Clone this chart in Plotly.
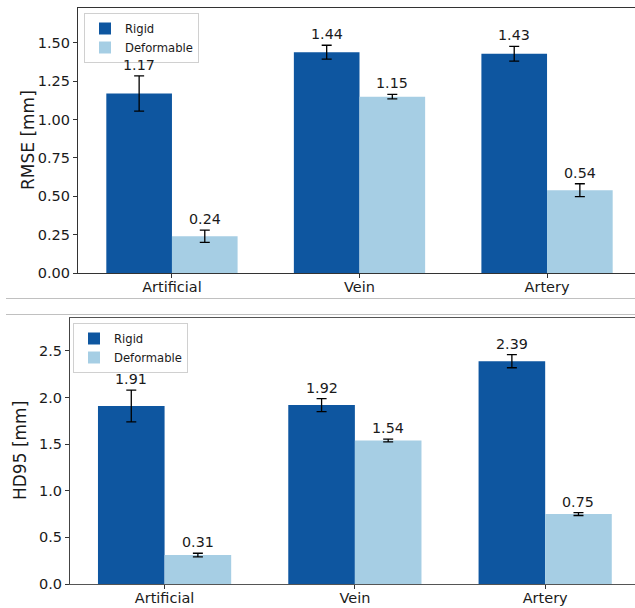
import plotly.graph_objects as go

categories = ["Artificial", "Vein", "Artery"]
series_names = ["Rigid", "Deformable"]

rmse_rigid = [1.17, 1.44, 1.43]
rmse_rigid_err = [0.115, 0.045, 0.048]
rmse_deform = [0.24, 1.15, 0.54]
rmse_deform_err = [0.04, 0.015, 0.042]

hd95_rigid = [1.91, 1.92, 2.39]
hd95_rigid_err = [0.17, 0.07, 0.07]
hd95_deform = [0.31, 1.54, 0.75]
hd95_deform_err = [0.02, 0.015, 0.015]

W, H = 635, 608
C_RIGID = "#0e56a0"
C_DEF = "#a6cee4"
FONT = "DejaVu Sans"
BAR_W = 0.35

def px_x(p):
    return p / W

def px_y(p):
    return 1 - p / H

fig = go.Figure()

xs = list(range(len(categories)))

panels = [
    dict(xa="x", ya="y", legend="legend", vals=(rmse_rigid, rmse_deform),
         errs=(rmse_rigid_err, rmse_deform_err), fmt="{:.2f}"),
    dict(xa="x2", ya="y2", legend="legend2", vals=(hd95_rigid, hd95_deform),
         errs=(hd95_rigid_err, hd95_deform_err), fmt="{:.2f}"),
]

for p in panels:
    for k, (name, color) in enumerate(zip(series_names, [C_RIGID, C_DEF])):
        offs = -BAR_W / 2 if k == 0 else BAR_W / 2
        xpos = [x + offs for x in xs]
        fig.add_trace(go.Bar(
            x=xpos, y=p["vals"][k], width=BAR_W, name=name,
            marker=dict(color=color, line=dict(color=color, width=0)),
            error_y=dict(type="data", array=p["errs"][k], color="black",
                         thickness=1.3, width=5),
            xaxis=p["xa"], yaxis=p["ya"], legend=p["legend"],
        ))
        for xv, v, e in zip(xpos, p["vals"][k], p["errs"][k]):
            fig.add_annotation(
                x=xv, y=v + e, xref=p["xa"], yref=p["ya"],
                text=p["fmt"].format(v), showarrow=False,
                yanchor="bottom", yshift=1,
                font=dict(family=FONT, size=14.3, color="#1a1a1a"),
            )

axis_common = dict(
    showgrid=False, zeroline=False, ticks="outside", ticklen=4,
    tickwidth=1, tickcolor="#333", showline=True, linewidth=1.2,
    automargin=False,
    tickfont=dict(family=FONT, size=14.5, color="#1a1a1a"),
)

fig.update_layout(
    template="none",
    width=W, height=H, margin=dict(l=0, r=0, t=0, b=0, pad=0),
    plot_bgcolor="white", paper_bgcolor="white", barmode="overlay",
    xaxis=dict(domain=[px_x(78), 1], range=[-0.501, 2.469], anchor="y",
               tickvals=xs, ticktext=categories, mirror=True, linecolor="#333",
               ticklabelstandoff=-4, **axis_common),
    yaxis=dict(domain=[px_y(273), px_y(8)], range=[0, 1.728], anchor="x",
               tickvals=[0, 0.25, 0.5, 0.75, 1.0, 1.25, 1.5], tickformat=".2f",
               linecolor="#333", **axis_common),
    xaxis2=dict(domain=[px_x(70), 1], range=[-0.497, 2.472], anchor="y2",
                tickvals=xs, ticktext=categories, mirror=True, linecolor="#555",
                ticklabelstandoff=-4, **axis_common),
    yaxis2=dict(domain=[px_y(584), px_y(318)], range=[0, 2.854], anchor="x2",
                tickvals=[0, 0.5, 1.0, 1.5, 2.0, 2.5], tickformat=".1f",
                linecolor="#444", **axis_common),
    legend=dict(x=px_x(84), y=px_y(13), xanchor="left", yanchor="top",
                bordercolor="#d0d0d0", borderwidth=1, bgcolor="rgba(255,255,255,0.85)",
                font=dict(family=FONT, size=11.6, color="#1a1a1a"),
                tracegroupgap=0, itemwidth=30),
    legend2=dict(x=px_x(73), y=px_y(323), xanchor="left", yanchor="top",
                 bordercolor="#d0d0d0", borderwidth=1, bgcolor="rgba(255,255,255,0.85)",
                 font=dict(family=FONT, size=11.6, color="#1a1a1a"),
                 tracegroupgap=0, itemwidth=30),
    shapes=[
        dict(type="line", xref="paper", yref="paper", x0=px_x(6), x1=1,
             y0=px_y(298.5), y1=px_y(298.5), line=dict(color="#c0c0c0", width=1)),
        dict(type="line", xref="paper", yref="paper", x0=px_x(6), x1=1,
             y0=px_y(314.5), y1=px_y(314.5), line=dict(color="#c0c0c0", width=1)),
    ],
)

fig.add_annotation(x=px_x(28), y=px_y(140), xref="paper", yref="paper",
                   xanchor="center", yanchor="middle",
                   text="RMSE [mm]", textangle=-90, showarrow=False,
                   font=dict(family=FONT, size=17, color="#1a1a1a"))
fig.add_annotation(x=px_x(20), y=px_y(451), xref="paper", yref="paper",
                   xanchor="center", yanchor="middle",
                   text="HD95 [mm]", textangle=-90, showarrow=False,
                   font=dict(family=FONT, size=17, color="#1a1a1a"))

fig.write_html(
    "out.html",
    config={"displayModeBar": False},
    post_script="document.body.style.margin='0';document.body.style.overflow='hidden';",
)
